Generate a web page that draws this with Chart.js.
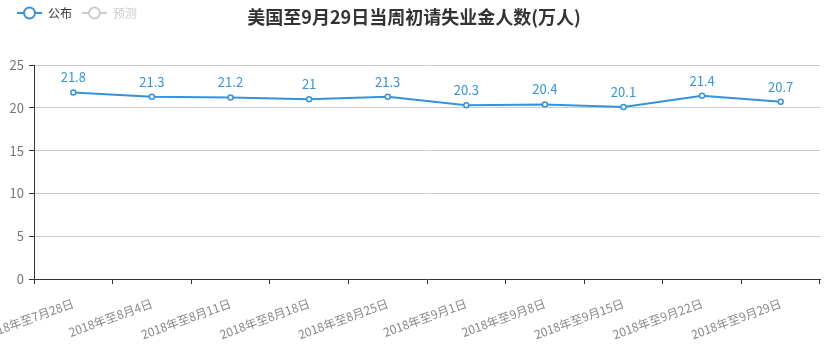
<!DOCTYPE html>
<html><head><meta charset="utf-8">
<script src="https://cdn.jsdelivr.net/npm/chart.js@4/dist/chart.umd.min.js"></script>
<style>html,body{margin:0;padding:0;background:#fff}#wrap{width:827px;height:352px}</style>
</head><body><div id="wrap"><canvas id="c" width="827" height="352"></canvas></div>
<script>
const categories = ['2018年至7月28日','2018年至8月4日','2018年至8月11日','2018年至8月18日','2018年至8月25日','2018年至9月1日','2018年至9月8日','2018年至9月15日','2018年至9月22日','2018年至9月29日'];
const published = [21.8, 21.3, 21.2, 21, 21.3, 20.3, 20.4, 20.1, 21.4, 20.7];
const yTicks = [0, 5, 10, 15, 20, 25];
const seriesNames = ['公布', '预测'];
const titleText = '美国至9月29日当周初请失业金人数(万人)';

const FONT = '"Noto Sans CJK SC", "Noto Sans", sans-serif';
const BLUE = '#3592dc';

const overlay = {
  id: 'overlay',
  afterDraw(chart) {
    const ctx = chart.ctx;
    ctx.save();
    // title
    ctx.font = 'bold 18px ' + FONT;
    ctx.fillStyle = '#333';
    ctx.textAlign = 'center';
    ctx.textBaseline = 'middle';
    ctx.fillText(titleText, 414, 17);
    // legend
    const items = [{name: seriesNames[0], c: BLUE, t: '#333', x: 17}, {name: seriesNames[1], c: '#ccc', t: '#ccc', x: 82}];
    items.forEach(it => {
      ctx.strokeStyle = it.c; ctx.lineWidth = 2;
      ctx.beginPath(); ctx.moveTo(it.x, 13); ctx.lineTo(it.x + 25, 13); ctx.stroke();
      ctx.beginPath(); ctx.arc(it.x + 12.5, 13, 5.5, 0, Math.PI * 2);
      ctx.fillStyle = '#fff'; ctx.fill(); ctx.stroke();
      ctx.font = '12px ' + FONT; ctx.fillStyle = it.t; ctx.textAlign = 'left';
      ctx.fillText(it.name, it.x + 31, 13);
    });
    // data labels
    const meta = chart.getDatasetMeta(0);
    ctx.font = '13px ' + FONT; ctx.fillStyle = BLUE; ctx.textAlign = 'center'; ctx.textBaseline = 'middle';
    meta.data.forEach((pt, i) => {
      ctx.fillText(String(published[i]), pt.x, pt.y - 15);
    });
    ctx.restore();
  }
};

new Chart(document.getElementById('c'), {
  type: 'line',
  data: {
    labels: categories,
    datasets: [{
      label: seriesNames[0],
      data: published,
      borderColor: BLUE,
      borderWidth: 2,
      pointRadius: 2.5,
      pointBorderWidth: 1.5,
      pointBackgroundColor: '#fff',
      pointBorderColor: BLUE,
      tension: 0
    }]
  },
  options: {
    responsive: false,
    animation: false,
    layout: {padding: {top: 65, right: 7, left: 0, bottom: 0}},
    plugins: {legend: {display: false}, title: {display: false}, tooltip: {enabled: false}},
    scales: {
      x: {
        offset: true,
        grid: {offset: true, drawOnChartArea: false, drawTicks: true, tickLength: 5, tickColor: '#333'},
        border: {color: '#333', width: 1},
        ticks: {color: '#888', font: {family: FONT, size: 12}, maxRotation: 20, minRotation: 20, autoSkip: false, padding: 12},
        afterFit(s) { s.paddingLeft = 0; s.paddingRight = 0; s.height = 73; }
      },
      y: {
        min: 0, max: 25,
        afterBuildTicks(s) { s.ticks = yTicks.map(v => ({value: v})); },
        grid: {color: '#ccc', tickColor: '#333', tickLength: 5},
        border: {color: '#333', width: 1},
        ticks: {color: '#777', font: {family: FONT, size: 13}, padding: 5},
        afterFit(s) { s.width = 34; s.paddingTop = 0; s.paddingBottom = 0; }
      }
    }
  },
  plugins: [overlay]
});
</script></body></html>
